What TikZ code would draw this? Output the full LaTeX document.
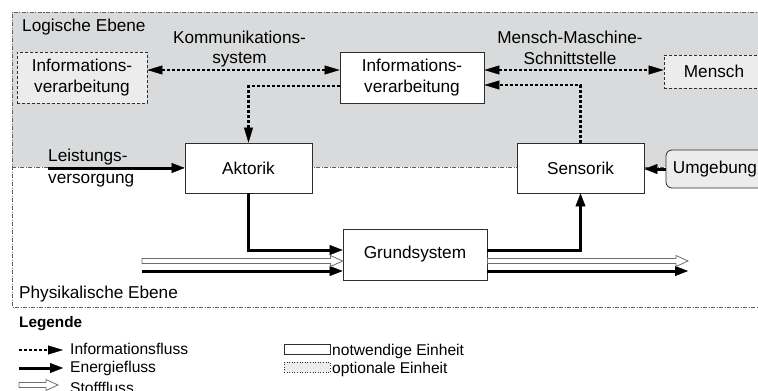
\documentclass[tikz,border=0pt]{standalone}
\usepackage{fontspec}
\setmainfont{Liberation Sans}
\usetikzlibrary{arrows.meta,calc}
\definecolor{ebenegrau}{RGB}{217,218,219}
\definecolor{optgrau}{RGB}{236,236,236}
\definecolor{rahmen}{RGB}{45,45,45}
\definecolor{strich}{RGB}{95,95,95}
\definecolor{stoffrand}{RGB}{110,110,110}
\tikzset{
  x=1pt, y=-1pt,
  every node/.style={font=\fontsize{17.2}{20.5}\selectfont, inner sep=0pt},
  legendfont/.style={font=\fontsize{15.6}{18}\selectfont},
  ebene/.style={draw=strich, line width=0.7pt,
    dash pattern=on 4pt off 1.5pt on 1pt off 1.5pt},
  einheit/.style={draw=rahmen, line width=0.8pt, fill=white, align=center},
  optional/.style={einheit, fill=optgrau, dash pattern=on 3pt off 2pt},
  infotip/.tip={Triangle[length=15pt, width=9pt, line width=0.4pt]},
  energietip/.tip={Triangle[length=13pt, width=10pt, line width=0.4pt]},
  info/.style={line width=2.8pt, dash pattern=on 2.8pt off 2.2pt, -infotip},
  infobi/.style={info, infotip-infotip},
  energie/.style={line width=3pt, -energietip},
  stoff/.style={draw=stoffrand, line width=0.8pt, fill=white,
    to path={let \p1=(\tikztostart), \p2=(\tikztotarget) in
      (\x1,\y1+2.5pt) -- (\x2-12pt,\y1+2.5pt) -- (\x2-12pt,\y1+5.5pt)
      -- (\x2,\y1) -- (\x2-12pt,\y1-5.5pt) -- (\x2-12pt,\y1-2.5pt)
      -- (\x1,\y1-2.5pt) -- cycle}},
}
\begin{document}
\begin{tikzpicture}
\useasboundingbox (0,0) rectangle (758,391);
\clip (0,0) rectangle (758,391);

% logical and physical planes
\fill[ebenegrau] (12,12) rectangle (770,167);
\draw[ebene] (770,12) -- (12,12) -- (12,307) -- (770,307);
\draw[ebene] (12,167) -- (770,167);

\node[anchor=base west] (logisch) at (22,31) {Logische Ebene};
\node[anchor=base west] (physikalisch) at (19,298) {Physikalische Ebene};

% units
\node[optional, minimum width=130pt, minimum height=51pt] (li) at (82,77.5) {Informations-\\verarbeitung};
\node[einheit, minimum width=144pt, minimum height=51pt] (ci) at (412,77.5) {Informations-\\verarbeitung};
\node[optional, minimum width=100pt, minimum height=33pt] (mensch) at (714,71.5) {Mensch};
\node[einheit, minimum width=127pt, minimum height=50pt] (akt) at (248.5,168) {Aktorik};
\node[einheit, minimum width=127pt, minimum height=50pt] (sens) at (580.5,168) {Sensorik};
\node[einheit, fill=optgrau, rounded corners=6pt, minimum width=98pt, minimum height=38pt] (umg) at (715,169) {Umgebung};
\node[einheit, minimum width=144pt, minimum height=51pt] (grund) at (415,254.5) {Grundsystem};

% interface labels
\node[align=center] (komm) at (239.5,49) {Kommunikations-\\system};
\node[align=center] (mms) at (570,48) {Mensch-Maschine-\\Schnittstelle};
\node[anchor=base west] (lv1) at (48,161) {Leistungs-};
\node[anchor=base west] (lv2) at (48,183) {versorgung};

% free ends
\coordinate (lvIn) at (48,168);
\coordinate (stoffIn) at (142,261);
\coordinate (stoffOut) at (688,261);
\coordinate (energIn) at (142,271);
\coordinate (energOut) at (688,271);

% information flows
\draw[infobi] ([yshift=7.5pt]li.east) -- ([yshift=7.5pt]ci.west);
\draw[infobi] ([yshift=7.5pt]ci.east) -- ([yshift=7.5pt]ci.east -| mensch.west);
\draw[info] ([yshift=-8.5pt]ci.west) -| (akt.north);
\draw[info] (sens.north) |- ([yshift=-7.5pt]ci.east);

% energy flows
\draw[energie] (lvIn) -- (lvIn -| akt.west);
\draw[energie] (umg.west) -- (umg.west -| sens.east);
\draw[energie] (akt.south) |- ([yshift=4.5pt]grund.west);
\draw[energie] ([yshift=4.5pt]grund.east) -| (sens.south);
\draw[energie] (energIn) -- (energIn -| grund.west);
\draw[energie] (energIn -| grund.east) -- (energOut);

% material flows
\path[stoff] (stoffIn) to (stoffIn -| grund.west);
\path[stoff] (stoffIn -| grund.east) to (stoffOut);

% legend
\node[anchor=base west, font=\bfseries\fontsize{15.3}{18}\selectfont] (legende) at (19,327) {Legende};
\coordinate (l1a) at (19,350);
\coordinate (l1b) at (63,350);
\coordinate (l2a) at (19,368);
\coordinate (l2b) at (63,368);
\coordinate (l3a) at (19,385);
\coordinate (l3b) at (58,385);
\draw[info] (l1a) -- (l1b);
\draw[energie] (l2a) -- (l2b);
\path[stoff] (l3a) to (l3b);
\node[anchor=base west, legendfont] (t1) at (70,354) {Informationsfluss};
\node[anchor=base west, legendfont] (t2) at (70,372) {Energiefluss};
\node[anchor=base west, legendfont] (t3) at (70,393) {Stofffluss};

\node[einheit, minimum width=46pt, minimum height=10pt] (notw) at (307,349) {};
\node[draw=rahmen, line width=0.6pt, fill=optgrau, dotted, minimum width=46pt, minimum height=10pt] (opt) at (307,367) {};
\node[anchor=base west, legendfont] (t4) at (332,355) {notwendige Einheit};
\node[anchor=base west, legendfont] (t5) at (332,373) {optionale Einheit};
\end{tikzpicture}
\end{document}
